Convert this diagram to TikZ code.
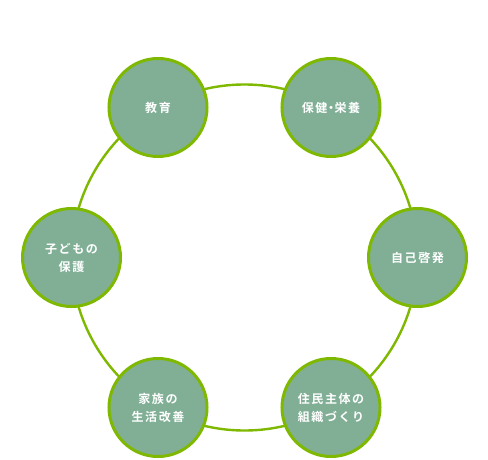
\documentclass[tikz,border=0pt]{standalone}
\usepackage{fontspec}
\newfontfamily\cjk[LetterSpace=13]{Noto Sans CJK JP Bold}
\definecolor{ringgreen}{HTML}{7FB800}
\definecolor{sage}{HTML}{80AF96}
\tikzset{
  ring/.style={draw=ringgreen, line width=2.4pt},
  topic/.style={circle, draw=ringgreen, line width=3pt, fill=sage, minimum size=98pt, inner sep=0pt,
    text=white, font=\cjk\fontsize{12}{18}\selectfont, align=center}
}
\newcommand{\middot}{\makebox[7pt]{・}}
\begin{document}
\begin{tikzpicture}[x=1pt,y=-1pt]
\useasboundingbox (0,0) rectangle (488,460);
\coordinate (c) at (244.5,257.5);
\draw[ring] (c) circle (173);
\node[topic] (edu) at (158,107.5) {教育};
\node[topic] (health) at (331,107.5) {保健\middot 栄養};
\node[topic] (self) at (417.5,257.5) {自己啓発};
\node[topic] (org) at (331,407.5) {住民主体の\\組織づくり};
\node[topic] (family) at (158,407.5) {家族の\\生活改善};
\node[topic] (child) at (71.5,257.5) {子どもの\\保護};
\end{tikzpicture}
\end{document}
